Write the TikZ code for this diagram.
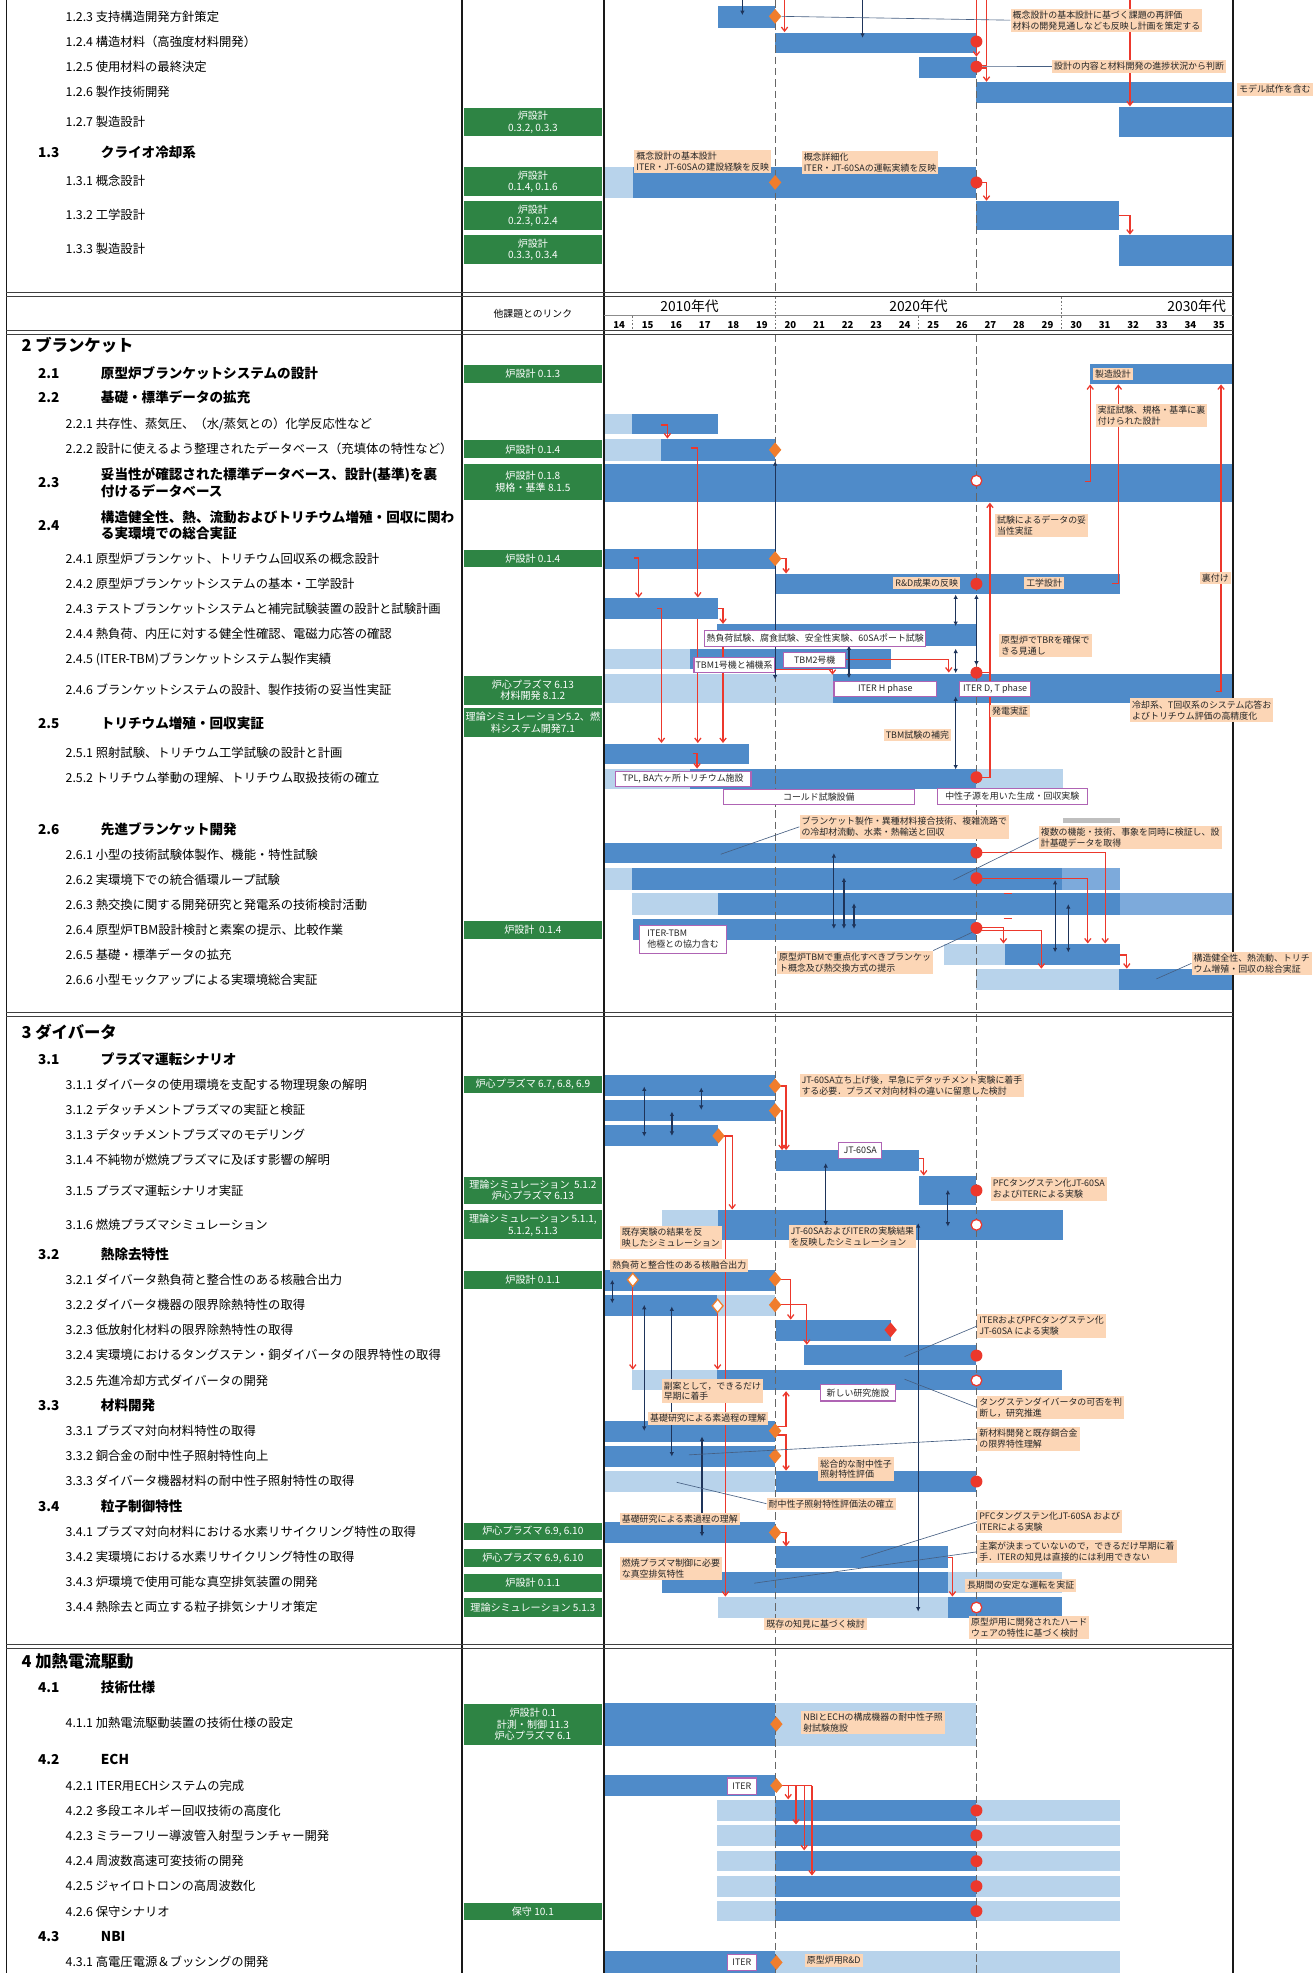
\documentclass[tikz,border=0pt]{standalone}
\usepackage{fontspec}
\setmainfont{Noto Sans CJK JP}
\usetikzlibrary{arrows.meta,shapes.geometric}
\definecolor{dk}{RGB}{79,139,201}
\definecolor{lt}{RGB}{184,211,235}
\definecolor{md}{RGB}{125,170,219}
\definecolor{grn}{RGB}{46,132,68}
\definecolor{pch}{RGB}{252,214,182}
\definecolor{rd}{RGB}{236,56,44}
\definecolor{nv}{RGB}{30,52,90}
\definecolor{org}{RGB}{240,125,45}
\definecolor{pur}{RGB}{175,100,180}
\definecolor{cnc}{RGB}{70,95,130}
\newcommand\fItem{\fontsize{9.8}{11}\selectfont}
\newcommand\fSub{\fontsize{10.8}{13}\selectfont\bfseries}
\newcommand\fSec{\fontsize{13}{15}\selectfont\bfseries}
\newcommand\fLab{\fontsize{7.1}{8.7}\selectfont}
\newcommand\fGrn{\fontsize{8}{9.2}\selectfont}
\newcommand\bD[4]{\fill[dk] (#1,#2) rectangle (#3,#4);}
\newcommand\bL[4]{\fill[lt] (#1,#2) rectangle (#3,#4);}
\newcommand\bM[4]{\fill[md] (#1,#2) rectangle (#3,#4);}
\newcommand\itm[3]{\node[itm] (#1) at (52,#2) {#3};}
\newcommand\sbt[4]{\node[sbh] (#1n) at (30,#2) {#3};\node[sbh] (#1t) at (80,#2) {#4};}
\newcommand\grb[4]{\node[lnk, minimum height=#3] (#1) at (423.5,#2) {#4};}
\newcommand\plb[4]{\node[plab] (#1) at (#2,#3) {#4};}
\newcommand\wlb[6]{\node[wlab, minimum width=#4, minimum height=#5] (#1) at (#2,#3) {#6};}
\begin{document}
\begin{tikzpicture}[x=1pt,y=-1pt,
  itm/.style={anchor=west, inner sep=0pt, font=\fItem},
  sbh/.style={anchor=west, inner sep=0pt, font=\fSub},
  sch/.style={anchor=west, inner sep=0pt, font=\fSec},
  lnk/.style={fill=grn, text=white, minimum width=110pt, inner sep=0.5pt, align=center, font=\fGrn},
  plab/.style={fill=pch, inner sep=1.6pt, align=left, anchor=north west, font=\fLab, text=black!85},
  wlab/.style={fill=white, draw=pur, line width=0.9pt, inner sep=1.2pt, align=center, anchor=north west, font=\fLab, text=black!85},
  rcir/.style={circle, fill=rd, minimum size=9.5pt, inner sep=0pt},
  wcir/.style={circle, fill=white, draw=rd, line width=1pt, minimum size=8.5pt, inner sep=0pt},
  odia/.style={diamond, fill=org, minimum width=10pt, minimum height=12pt, inner sep=0pt},
  wdia/.style={diamond, fill=white, draw=org, line width=1pt, minimum width=9pt, minimum height=11pt, inner sep=0pt},
  rdia/.style={diamond, fill=rd, minimum width=10pt, minimum height=12pt, inner sep=0pt},
  rarr/.style={draw=rd, line width=1pt, -{Straight Barb[length=3.2pt,width=5pt]}},
  rlin/.style={draw=rd, line width=1pt},
  narr/.style={draw=nv, line width=0.9pt, {Latex[length=3.5pt,width=3.6pt]}-{Latex[length=3.5pt,width=3.6pt]}},
  ndwn/.style={draw=nv, line width=0.9pt, -{Latex[length=3.5pt,width=3.6pt]}},
  conn/.style={draw=cnc, line width=0.5pt},
  dsh/.style={draw=black!60, line width=0.7pt, dash pattern=on 6pt off 3pt},
  dtt/.style={draw=black!55, line width=0.6pt, dash pattern=on 1.5pt off 1.5pt},
  frm/.style={draw=black!90, line width=1.2pt},
  dbl/.style={draw=black!75, line width=0.8pt}]
\useasboundingbox (0,0) rectangle (1045,1568);
\fill[white] (0,0) rectangle (1045,1568);
% ---------- bars section 1
\bD{571}{5}{616}{22}
\bD{616}{26}{776}{42}
\bD{730}{45}{776}{62}
\bD{776}{65}{980}{82}
\bD{889}{85}{980}{109}
\bL{480}{133}{503}{157}\bD{503}{133}{776}{157}
\bD{776}{160}{889}{183}
\bD{889}{187}{980}{211}
% ---------- bars section 2
\bD{866}{289}{980}{305}
\bL{480}{329}{502}{345}\bD{502}{329}{571}{345}
\bL{480}{349}{525}{366}\bD{525}{349}{616}{366}
\bD{480}{369}{980}{399}
\bD{480}{436}{616}{452}
\bD{617}{456}{890}{472}
\bD{480}{475}{571}{492}
\bD{570}{496}{776}{513}
\bL{480}{516}{548}{532}\bD{548}{516}{708}{532}
\bL{480}{536}{662}{559}\bD{662}{536}{980}{559}
\bD{480}{591}{595}{607}
\bL{480}{611}{548}{627}\bD{548}{611}{776}{627}\bL{776}{611}{845}{627}
\fill[black!25] (845,650) rectangle (890,654);
\bD{480}{670}{776}{686}
\bL{480}{690}{502}{707}\bD{502}{690}{844}{707}\bM{844}{690}{890}{707}
\bL{502}{710}{571}{727}\bD{571}{710}{890}{727}\bM{890}{710}{980}{727}
\bD{503}{730}{776}{747}
\bL{750}{750}{799}{767}\bD{799}{750}{890}{767}
\bL{776}{770}{889}{787}\bD{889}{770}{980}{787}
% ---------- bars section 3
\bD{480}{854}{616}{871}
\bD{480}{874}{616}{891}
\bD{480}{894}{571}{911}
\bD{617}{914}{730.5}{931}
\bD{730.5}{934.5}{776}{958}
\bL{526}{961.5}{571}{985.5}\bD{571}{961.5}{845}{985.5}
\bD{480}{1009}{616}{1026}
\bD{480}{1029}{570}{1045.5}\bL{570}{1029}{616}{1045.5}
\bD{617}{1049}{708}{1065.5}
\bD{639}{1069}{776}{1085}
\bL{502}{1089}{570}{1105}\bD{570}{1089}{844}{1105}
\bD{480}{1129}{616}{1146}
\bD{480}{1149}{616}{1165.5}
\bL{480}{1169}{616}{1185.5}\bD{617}{1169}{776}{1185.5}
\bD{480}{1209.5}{616}{1226}
\bD{617}{1229}{753}{1246}
\bD{526}{1249}{753}{1266}\bL{753}{1249}{844}{1266}
\bL{571}{1269}{753}{1285.5}\bD{753}{1269}{844}{1285.5}
% ---------- bars section 4
\bD{480}{1353.5}{616}{1387.5}\bL{616}{1353.5}{776}{1387.5}
\bD{480}{1410.5}{616}{1427}
\foreach \ya/\yb in {1430.4/1447,1450.2/1467,1471/1487.3,1490.8/1507.2,1510.6/1527}{
  \bL{570}{\ya}{616}{\yb}\bD{616}{\ya}{776}{\yb}\bL{776}{\ya}{890}{\yb}}
\bD{480}{1550.3}{616}{1568}\bL{616}{1550.3}{890}{1568}
% ---------- dashed year lines
\draw[dsh] (616,0) -- (616,232);
\draw[dsh] (776,0) -- (776,232);
\draw[dsh] (616,266) -- (616,1568);
\draw[dsh] (776,266) -- (776,1568);
% ---------- frame
\draw[frm] (5,0) -- (5,1568);
\draw[frm] (367,0) -- (367,1568);
\draw[frm] (480,0) -- (480,1568);
\draw[frm] (980,0) -- (980,1568);
\foreach \yy in {232.5,235.5,263,266,805,808,1307,1310}{\draw[dbl] (5,\yy) -- (980,\yy);}
\draw[draw=black!45, line width=1pt] (480,251) -- (980,251);
\draw[dtt] (616,236) -- (616,263);
\draw[dtt] (843.2,236) -- (843.2,263);
\draw[dtt] (502.7,251) -- (502.7,263);
\draw[dtt] (729.7,251) -- (729.7,263);
% ---------- header
\node[font=\fontsize{7.8}{9}\selectfont, inner sep=0pt] (hlink) at (423.5,249) {他課題とのリンク};
\node[font=\fontsize{11}{12}\selectfont, inner sep=0pt] (dec1) at (548,243) {2010年代};
\node[font=\fontsize{11}{12}\selectfont, inner sep=0pt] (dec2) at (730,243) {2020年代};
\node[font=\fontsize{11}{12}\selectfont, inner sep=0pt] (dec3) at (951,243) {2030年代};
\foreach \k in {14,...,35}{\node[font=\fontsize{7.6}{9}\selectfont\bfseries, inner sep=0pt] (yr\k) at ({492+(\k-14)*22.7},258) {\k};}
% ---------- left column text
\itm{i123}{13}{1.2.3 支持構造開発方針策定}
\itm{i124}{33}{1.2.4 構造材料（高強度材料開発）}
\itm{i125}{53}{1.2.5 使用材料の最終決定}
\itm{i126}{73}{1.2.6 製作技術開発}
\itm{i127}{97}{1.2.7 製造設計}
\sbt{s13}{121}{1.3}{クライオ冷却系}
\itm{i131}{144}{1.3.1 概念設計}
\itm{i132}{171}{1.3.2 工学設計}
\itm{i133}{198}{1.3.3 製造設計}
\node[sch] (sec2) at (17,274) {2 ブランケット};
\sbt{s21}{297}{2.1}{原型炉ブランケットシステムの設計}
\sbt{s22}{316}{2.2}{基礎・標準データの拡充}
\itm{i221}{337}{2.2.1 共存性、蒸気圧、（水/蒸気との）化学反応性など}
\itm{i222}{357}{2.2.2 設計に使えるよう整理されたデータベース（充填体の特性など）}
\node[sbh] (s23n) at (30,383.5) {2.3};
\node[sbh, align=left] (s23t) at (80,383.5) {妥当性が確認された標準データベース、設計(基準)を裏\\付けるデータベース};
\node[sbh] (s24n) at (30,417.5) {2.4};
\node[sbh, align=left] (s24t) at (80,417.5) {構造健全性、熱、流動およびトリチウム増殖・回収に関わ\\る実環境での総合実証};
\itm{i241}{444}{2.4.1 原型炉ブランケット、トリチウム回収系の概念設計}
\itm{i242}{464}{2.4.2 原型炉ブランケットシステムの基本・工学設計}
\itm{i243}{484}{2.4.3 テストブランケットシステムと補完試験装置の設計と試験計画}
\itm{i244}{504}{2.4.4 熱負荷、内圧に対する健全性確認、電磁力応答の確認}
\itm{i245}{524}{2.4.5 (ITER-TBM)ブランケットシステム製作実績}
\itm{i246}{548}{2.4.6 ブランケットシステムの設計、製作技術の妥当性実証}
\sbt{s25}{575}{2.5}{トリチウム増殖・回収実証}
\itm{i251}{598}{2.5.1 照射試験、トリチウム工学試験の設計と計画}
\itm{i252}{618}{2.5.2 トリチウム挙動の理解、トリチウム取扱技術の確立}
\sbt{s26}{659}{2.6}{先進ブランケット開発}
\itm{i261}{679}{2.6.1 小型の技術試験体製作、機能・特性試験}
\itm{i262}{699}{2.6.2 実環境下での統合循環ループ試験}
\itm{i263}{719}{2.6.3 熱交換に関する開発研究と発電系の技術検討活動}
\itm{i264}{739}{2.6.4 原型炉TBM設計検討と素案の提示、比較作業}
\itm{i265}{759}{2.6.5 基礎・標準データの拡充}
\itm{i266}{779}{2.6.6 小型モックアップによる実環境総合実証}
\node[sch] (sec3) at (17,820) {3 ダイバータ};
\sbt{s31}{842}{3.1}{プラズマ運転シナリオ}
\itm{i311}{862}{3.1.1 ダイバータの使用環境を支配する物理現象の解明}
\itm{i312}{882}{3.1.2 デタッチメントプラズマの実証と検証}
\itm{i313}{902}{3.1.3 デタッチメントプラズマのモデリング}
\itm{i314}{922}{3.1.4 不純物が燃焼プラズマに及ぼす影響の解明}
\itm{i315}{946}{3.1.5 プラズマ運転シナリオ実証}
\itm{i316}{973}{3.1.6 燃焼プラズマシミュレーション}
\sbt{s32}{997}{3.2}{熱除去特性}
\itm{i321}{1017}{3.2.1 ダイバータ熱負荷と整合性のある核融合出力}
\itm{i322}{1037}{3.2.2 ダイバータ機器の限界除熱特性の取得}
\itm{i323}{1057}{3.2.3 低放射化材料の限界除熱特性の取得}
\itm{i324}{1077}{3.2.4 実環境におけるタングステン・銅ダイバータの限界特性の取得}
\itm{i325}{1097}{3.2.5 先進冷却方式ダイバータの開発}
\sbt{s33}{1117}{3.3}{材料開発}
\itm{i331}{1137}{3.3.1 プラズマ対向材料特性の取得}
\itm{i332}{1157}{3.3.2 銅合金の耐中性子照射特性向上}
\itm{i333}{1177}{3.3.3 ダイバータ機器材料の耐中性子照射特性の取得}
\sbt{s34}{1197}{3.4}{粒子制御特性}
\itm{i341}{1217}{3.4.1 プラズマ対向材料における水素リサイクリング特性の取得}
\itm{i342}{1237}{3.4.2 実環境における水素リサイクリング特性の取得}
\itm{i343}{1257}{3.4.3 炉環境で使用可能な真空排気装置の開発}
\itm{i344}{1277}{3.4.4 熱除去と両立する粒子排気シナリオ策定}
\node[sch] (sec4) at (17,1320) {4 加熱電流駆動};
\sbt{s41}{1341}{4.1}{技術仕様}
\itm{i411}{1369}{4.1.1 加熱電流駆動装置の技術仕様の設定}
\sbt{s42}{1398}{4.2}{ECH}
\itm{i421}{1419}{4.2.1 ITER用ECHシステムの完成}
\itm{i422}{1439}{4.2.2 多段エネルギー回収技術の高度化}
\itm{i423}{1459}{4.2.3 ミラーフリー導波管入射型ランチャー開発}
\itm{i424}{1479}{4.2.4 周波数高速可変技術の開発}
\itm{i425}{1499}{4.2.5 ジャイロトロンの高周波数化}
\itm{i426}{1519}{4.2.6 保守シナリオ}
\sbt{s43}{1539}{4.3}{NBI}
\itm{i431}{1559}{4.3.1 高電圧電源＆ブッシングの開発}
% ---------- green link boxes
\grb{g1}{97}{22pt}{炉設計\\0.3.2, 0.3.3}
\grb{g2}{144.5}{23pt}{炉設計\\0.1.4, 0.1.6}
\grb{g3}{171.5}{23pt}{炉設計\\0.2.3, 0.2.4}
\grb{g4}{198.5}{23pt}{炉設計\\0.3.3, 0.3.4}
\grb{g5}{297}{14pt}{炉設計 0.1.3}
\grb{g6}{357}{14pt}{炉設計 0.1.4}
\grb{g7}{383}{28pt}{炉設計 0.1.8\\規格・基準 8.1.5}
\grb{g8}{444}{14pt}{炉設計 0.1.4}
\grb{g9}{548.5}{23pt}{炉心プラズマ 6.13\\材料開発 8.1.2}
\grb{g10}{574.5}{23pt}{理論シミュレーション5.2、燃\\料システム開発7.1}
\grb{g11}{739}{14pt}{炉設計\ \ 0.1.4}
\grb{g12}{862}{14pt}{炉心プラズマ 6.7, 6.8, 6.9}
\grb{g13}{946}{22pt}{理論シミュレーション\ \ 5.1.2\\炉心プラズマ 6.13}
\grb{g14}{973.5}{23pt}{理論シミュレーション 5.1.1,\\5.1.2, 5.1.3}
\grb{g15}{1017}{14pt}{炉設計 0.1.1}
\grb{g16}{1217}{14pt}{炉心プラズマ 6.9, 6.10}
\grb{g17}{1238}{14pt}{炉心プラズマ 6.9, 6.10}
\grb{g18}{1258}{14pt}{炉設計 0.1.1}
\grb{g19}{1277.5}{15pt}{理論シミュレーション 5.1.3}
\grb{g20}{1370.5}{33pt}{炉設計 0.1\\計測・制御 11.3\\炉心プラズマ 6.1}
\grb{g21}{1519}{14pt}{保守 10.1}
% ---------- arrows section 1
\draw[rarr] (623.5,0) -- (623.5,25.5);
\draw[rlin] (776,0) -- (776,33);
\draw[rlin] (784,0) |- (776,52);
\draw[rarr] (776,33) -- (776,45);
\draw[rarr] (776,54) -| (784,65);
\draw[rarr] (898,0) -- (898,84.5);
\draw[rarr] (776,145) -| (784,159.5);
\draw[rarr] (889,171.5) -| (898,186.5);
\draw[ndwn] (590,0) -- (590,12);
\draw[ndwn] (685.5,0) -- (685.5,30);
% ---------- arrows section 2
\draw[rarr] (525.7,337.7) -| (530.4,348.5);
\draw[rarr] (549,356) -| (554.6,474.8);
\draw[rarr] (554.6,492) -- (554.6,590.5);
\draw[rarr] (504,443.5) -| (507.6,475);
\draw[rarr] (616,444) -| (624.7,455.8);
\draw[rarr] (522,483.4) -| (525.7,590.5);
\draw[rarr] (571,483.4) -| (574.6,495.8);
\draw[rarr] (574.6,513) -- (574.6,590.5);
\draw[rarr] (550.4,598.7) -| (554,610.8);
\draw[rarr] (671.4,524) -| (754,534.5);
\draw[rarr] (613.4,531.9) -| (661.6,536.2);
\draw[rarr] (862,382.7) -| (866.4,305.5);
\draw[rarr] (884,463.5) -| (888.8,305.5);
\draw[rarr] (966,549.6) -| (970.4,305.5);
\draw[rarr] (776,617.7) -| (786.7,399.5);
\draw[rlin] (776,534.6) -- (786.7,534.6);
\draw[rarr] (776,677.6) -| (878.3,749.8);
\draw[rarr] (776,697.9) -| (864.5,749.8);
\draw[rarr] (776,737) -| (797.5,749.8);
\draw[rarr] (776,739.5) -| (827.6,769.8);
\draw[rarr] (890,758.9) -| (895.5,769.8);
\draw[rlin, line width=0.8pt] (797.5,709.9) -- (804,709.9);
\draw[rlin, line width=0.8pt] (797.5,729.7) -- (804,729.7);
\draw[narr] (616,366.5) -- (616,540);
\draw[narr] (759.5,472.5) -- (759.5,497.5);
\draw[narr] (776,472.5) -- (776,529);
\draw[narr] (674.7,513) -- (674.7,539);
\draw[narr] (759.5,515.5) -- (759.5,535);
\draw[narr] (759.5,553.5) -- (759.5,611.5);
\draw[narr] (662.7,678) -- (662.7,738.2);
\draw[narr] (670.7,697.4) -- (670.7,738.2);
\draw[narr] (678.7,717.8) -- (678.7,738.2);
\draw[narr] (838.5,699.3) -- (838.5,756.8);
\draw[narr] (849,718.6) -- (849,756.8);
% ---------- arrows section 3
\draw[rarr] (616,863) -| (624.7,914);
\draw[rarr] (616,882.6) -| (621.5,914);
\draw[rarr] (571,902.7) -| (581.9,961.2);
\draw[rarr] (571,902.7) -| (576.5,1268.8);
\draw[rarr] (730.5,920.4) -| (734.1,934.2);
\draw[rarr] (502.9,1017.1) -- (502.9,1088.5);
\draw[rarr] (570.3,1037.8) -- (570.3,1088.5);
\draw[rarr] (616,1016.6) -| (628.4,1048.7);
\draw[rarr] (616,1037) -| (641.2,1068.7);
\draw[rarr] (616,1133.7) -| (624.7,1105.6);
\draw[rarr] (616,1140.5) -| (624.7,1168.8);
\draw[rarr] (616,1217.9) -| (624.7,1229);
\draw[rarr] (753.3,1237.5) -| (756.9,1268.8);
\draw[narr] (512,863.5) -- (512,903.2);
\draw[narr] (557.3,864.3) -- (557.3,882);
\draw[narr] (534,883.4) -- (534,902.7);
\draw[narr] (656.2,924.4) -- (656.2,974);
\draw[narr] (753.3,945.6) -- (753.3,974.8);
\draw[narr] (729.7,972.1) -- (729.7,1280.7);
\draw[narr] (486.6,1017.1) -- (486.6,1035.7);
\draw[narr] (512,1037) -- (512,1137.1);
\draw[narr] (533.9,1038.3) -- (533.9,1157.5);
\draw[narr] (557.9,1141.6) -- (557.9,1221.1);
% ---------- arrows section 4
\draw[rlin] (617,1419) -- (645.3,1419);
\foreach \xx/\yy in {626.4/1430,632.6/1450,639.1/1470.5,645.3/1490.5}{\draw[rarr] (\xx,1419) -- (\xx,\yy);}
% ---------- markers
\node[odia] (d1) at (616,13) {};
\node[rcir] (c1) at (776,33) {};
\node[rcir] (c2) at (776,53) {};
\node[odia] (d2) at (616,145) {};
\node[rcir] (c3) at (776,145) {};
\node[odia] (d3) at (616,357.5) {};
\node[wcir] (c4) at (776,382) {};
\node[odia] (d4) at (616,444) {};
\node[rcir] (c5) at (776,464) {};
\node[rcir] (c6) at (776,534.6) {};
\node[rcir] (c7) at (776,617.7) {};
\node[rcir] (c8) at (776,677.6) {};
\node[rcir] (c9) at (776,697.9) {};
\node[rcir] (c10) at (776,737.5) {};
\node[odia] (d5) at (616,863) {};
\node[odia] (d6) at (616,882.6) {};
\node[odia] (d7) at (571,902.7) {};
\node[rcir] (c11) at (776,946.1) {};
\node[wcir] (c12) at (776,973.4) {};
\node[odia] (d8) at (616,1016.6) {};
\node[wdia] (wd1) at (502.9,1017.1) {};
\node[odia] (d9) at (616,1037) {};
\node[wdia] (wd2) at (570.3,1037.8) {};
\node[rdia] (rd1) at (707.8,1056.9) {};
\node[rcir] (c13) at (776,1077.3) {};
\node[wcir] (c14) at (776,1097.1) {};
\node[odia] (d10) at (616,1137.1) {};
\node[odia] (d11) at (616,1157) {};
\node[rcir] (c15) at (776,1177.4) {};
\node[odia] (d12) at (616,1217.9) {};
\node[wcir] (c16) at (776,1277.5) {};
\node[odia] (d13) at (617,1370.2) {};
\node[odia] (d14) at (617,1419) {};
\foreach \yy [count=\n] in {1438.8,1458.6,1479.1,1499,1518.8}{\node[rcir] (e\n) at (776,\yy) {};}
\node[odia] (d15) at (617,1559.6) {};
% ---------- labels section 1
\plb{L1}{803}{6.6}{概念設計の基本設計に基づく課題の再評価\\材料の開発見通しなども反映し計画を策定する}
\plb{L2}{836}{47.7}{設計の内容と材料開発の進捗状況から判断}
\plb{L3}{983}{66}{モデル試作を含む}
\plb{L4}{504}{118.7}{概念設計の基本設計\\ITER・JT-60SAの建設経験を反映}
\plb{L5}{637}{120}{概念詳細化\\ITER・JT-60SAの運転実績を反映}
\draw[conn] (d1.east) -- (L1.west);
\draw[conn] (c2.east) -- (L2.west);
% ---------- labels section 2
\plb{L6}{868.5}{292}{製造設計}
\plb{L7}{870.8}{320.5}{実証試験、規格・基準に裏\\付けられた設計}
\plb{L8}{790.6}{408.4}{試験によるデータの妥\\当性実証}
\plb{L9}{709.8}{458.2}{R\&D成果の反映}
\plb{L10}{813.8}{458.2}{工学設計}
\plb{L11}{953.4}{454.3}{裏付け}
\plb{L12}{793.9}{503.3}{原型炉でTBRを確保で\\きる見通し}
\plb{L13}{786.7}{560.2}{発電実証}
\plb{L14}{898}{554.9}{冷却系、T回収系のシステム応答お\\よびトリチウム評価の高精度化}
\plb{L15}{702.2}{578.8}{TBM試験の補完}
\plb{L16}{635.2}{647.6}{ブランケット製作・異種材料接合技術、複雑流路で\\の冷却材流動、水素・熱輸送と回収}
\plb{L17}{825.4}{656.4}{複数の機能・技術、事象を同時に検証し、設\\計基礎データを取得}
\plb{L18}{617.4}{755.4}{原型炉TBMで重点化すべきブランケッ\\ト概念及び熱交換方式の提示}
\plb{L19}{946.8}{756.2}{構造健全性、熱流動、トリチ\\ウム増殖・回収の総合実証}
\wlb{W1}{559.4}{500.6}{176pt}{12.8pt}{熱負荷試験、腐食試験、安全性実験、60SAポート試験}
\wlb{W2}{551.1}{521.8}{62.3pt}{12.5pt}{TBM1号機と補機系}
\wlb{W3}{622.5}{517.9}{49pt}{12pt}{TBM2号機}
\wlb{W4}{662.3}{540.9}{81.6pt}{12.2pt}{ITER H phase}
\wlb{W5}{762.4}{540.9}{56pt}{12.2pt}{ITER D, T phase}
\wlb{W6}{488.4}{612.4}{108pt}{12.2pt}{TPL, BA六ヶ所トリチウム施設}
\wlb{W7}{574.6}{627}{151.4pt}{12.2pt}{コールド試験設備}
\wlb{W8}{744.3}{626}{119.5pt}{13.2pt}{中性子源を用いた生成・回収実験}
\node[wlab, align=left, minimum width=69.6pt, minimum height=22pt] (W9) at (507.6,735) {ITER-TBM\\他極との協力含む};
\draw[conn] (L16.west) -- (572.8,678.9);
\draw[conn] (L17.west) -- (757.7,699.3);
\draw[conn] (L18.north east) -- (c10.south west);
\draw[conn] (L19.west) -- (918.9,778);
% ---------- labels section 3
\plb{L20}{635.2}{853.4}{JT-60SA立ち上げ後，早急にデタッチメント実験に着手\\する必要．プラズマ対向材料の違いに留意した検討}
\plb{L21}{787.3}{935.5}{PFCタングステン化JT-60SA\\およびITERによる実験}
\plb{L22}{492.4}{974.2}{既存実験の結果を反\\映したシミュレーション}
\plb{L23}{626.5}{973.4}{JT-60SAおよびITERの実験結果\\を反映したシミュレーション}
\plb{L24}{484.8}{1000.7}{熱負荷と整合性のある核融合出力}
\plb{L25}{776.5}{1044.4}{ITERおよびPFCタングステン化\\JT-60SA による実験}
\plb{L26}{776.5}{1109}{タングステンダイバータの可否を判\\断し，研究推進}
\plb{L27}{525.7}{1096.1}{副案として，できるだけ\\早期に着手}
\plb{L28}{514.9}{1122.3}{基礎研究による素過程の理解}
\plb{L29}{776.5}{1134.2}{新材料開発と既存銅合金\\の限界特性理解}
\plb{L30}{650.2}{1158.1}{総合的な耐中性子\\照射特性評価}
\plb{L31}{609.1}{1189.9}{耐中性子照射特性評価法の確立}
\plb{L32}{492.4}{1202}{基礎研究による素過程の理解}
\plb{L33}{776.5}{1199.9}{PFCタングステン化JT-60SA および\\ITERによる実験}
\plb{L34}{776.5}{1223.8}{主案が決まっていないので，できるだけ早期に着\\手．ITERの知見は直接的には利用できない}
\plb{L35}{492.4}{1237}{燃焼プラズマ制御に必要\\な真空排気特性}
\plb{L36}{766.7}{1255}{長期間の安定な運転を実証}
\plb{L37}{607.3}{1285.5}{既存の知見に基づく検討}
\plb{L38}{770}{1284.2}{原型炉用に開発されたハード\\ウェアの特性に基づく検討}
\wlb{W10}{666}{907.2}{34.4pt}{12.7pt}{JT-60SA}
\wlb{W11}{651.4}{1099.8}{60pt}{13.2pt}{新しい研究施設}
\draw[conn] (L25.west) -- (718.9,1078.1);
\draw[conn] (L26.west) -- (718.9,1096.1);
\draw[conn] (L29.west) -- (547.5,1156.2);
\draw[conn] (L31.west) -- (537.7,1178);
\draw[conn] (L33.west) -- (684,1238.3);
\draw[conn] (L34.west) -- (599.3,1258.2);
% ---------- labels section 4
\plb{L39}{636.6}{1359.4}{NBIとECHの構成機器の耐中性子照\\射試験施設}
\wlb{W12}{577.5}{1412.6}{23.2pt}{13pt}{ITER}
\wlb{W13}{577.5}{1552.7}{23.2pt}{12.7pt}{ITER}
\plb{L40}{639.5}{1553}{原型炉用R\&D}
\end{tikzpicture}
\end{document}
